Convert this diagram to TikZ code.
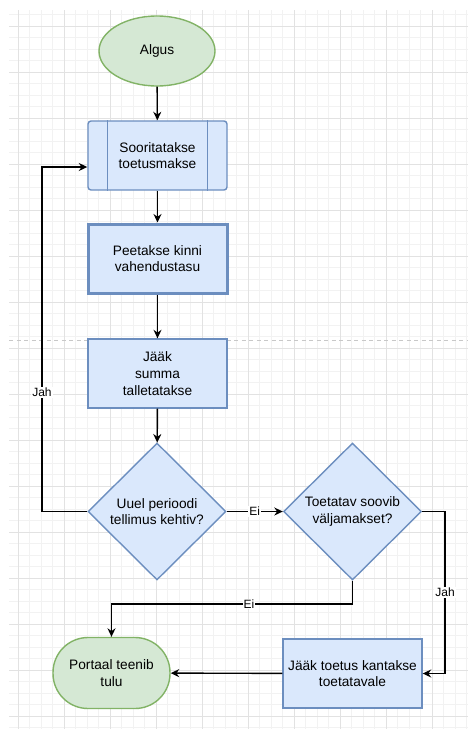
\documentclass[tikz,border=0pt]{standalone}
\usepackage{fontspec}
\setmainfont{Liberation Sans}
\usetikzlibrary{arrows.meta,shapes.geometric}

\definecolor{greenfill}{HTML}{D5E8D4}
\definecolor{greenline}{HTML}{82B366}
\definecolor{bluefill}{HTML}{DAE8FC}
\definecolor{blueline}{HTML}{6C8EBF}
\definecolor{minorgrid}{HTML}{F2F2F2}
\definecolor{majorgrid}{HTML}{E2E2E2}
\definecolor{breakline}{HTML}{C8C8C8}

\tikzset{
  box/.style={draw=blueline, fill=bluefill, line width=1.4pt, minimum width=139pt, minimum height=69pt, inner sep=0pt, align=center},
  boxline/.style={draw=blueline, line width=1.4pt},
  decision/.style={diamond, draw=blueline, fill=bluefill, line width=1.4pt, minimum width=138pt, minimum height=137pt, inner sep=0pt, align=center},
  start/.style={ellipse, draw=greenline, fill=greenfill, line width=1.4pt, minimum width=116pt, minimum height=70pt, inner sep=0pt},
  finish/.style={rectangle, rounded corners=35pt, draw=greenline, fill=greenfill, line width=1.4pt, minimum width=117pt, minimum height=71pt, inner sep=0pt, align=center},
  flow/.style={line width=1.4pt, -{Stealth[length=8.5pt, width=8pt]}},
  answer/.style={fill=white, inner sep=1pt, font=\fontsize{12}{14}\selectfont}
}

\begin{document}
\begin{tikzpicture}[x=1pt, y=-1pt, font=\fontsize{13.7}{16.7}\selectfont]

\def\width{468}
\def\height{729}

\path [use as bounding box] (0,0) rectangle (\width,\height);

% GRID
\begin{scope}[shift={(18.3,26)}]
\draw [minorgrid, line width=0.8pt, step=11.5pt] (-9.3,703) grid (449.7,-16);
\draw [majorgrid, line width=0.8pt, step=46pt] (-9.3,703) grid (449.7,-16);
\end{scope}

% PAGE BREAK
\draw [breakline, line width=1pt, dash pattern=on 4pt off 3.5pt] (9,340) -- (\width,340);

% SHAPES
\node [start] (algus) at (157,51) {Algus};
\node [box, rounded corners=3pt] (soorit) at (157.5,155.5) {Sooritatakse\\toetusmakse};
\draw [boxline] ([xshift=20pt]soorit.north west) -- ([xshift=20pt]soorit.south west);
\draw [boxline] ([xshift=-20pt]soorit.north east) -- ([xshift=-20pt]soorit.south east);
\node [box, line width=3pt] (peet) at (157.5,258.5) {Peetakse kinni\\vahendustasu};
\node [box] (jaak) at (157.5,373.5) {Jääk\\summa\\talletatakse};
\node [decision] (kehtiv) at (157,511.5) {Uuel perioodi\\tellimus kehtiv?};
\node [decision] (soovib) at (352.5,511.5) {Toetatav soovib\\väljamakset?};
\node [box] (kanne) at (352.5,673.5) {Jääk toetus kantakse\\toetatavale};
\node [finish] (tulu) at (111.5,673) {Portaal teenib\\tulu};

% CONNECTORS
\coordinate (loopx) at (42,0);
\coordinate (jahin) at ([yshift=-11.5pt]soorit.west);
\coordinate (eiy) at (0,604);
\coordinate (rightx) at (445,0);

\draw [flow] (algus) -- (soorit);
\draw [flow] (soorit) -- (peet);
\draw [flow] (peet) -- (jaak);
\draw [flow] (jaak) -- (kehtiv);
\draw [flow] (kehtiv.east) -- node [answer] {Ei} (soovib.west);
\draw [flow] (kehtiv.west) -- (kehtiv.west -| loopx) -- node [answer, pos=0.345] {Jah} (loopx |- jahin) -- (jahin);
\draw [flow] (soovib.south) -- (soovib.south |- eiy) -- node [answer, pos=0.43] {Ei} (eiy -| tulu.north) -- (tulu.north);
\draw [flow] (soovib.east) -- (soovib.east -| rightx) -- node [answer] {Jah} (rightx |- kanne.east) -- (kanne.east);
\draw [flow] (kanne) -- (tulu);

\end{tikzpicture}
\end{document}
